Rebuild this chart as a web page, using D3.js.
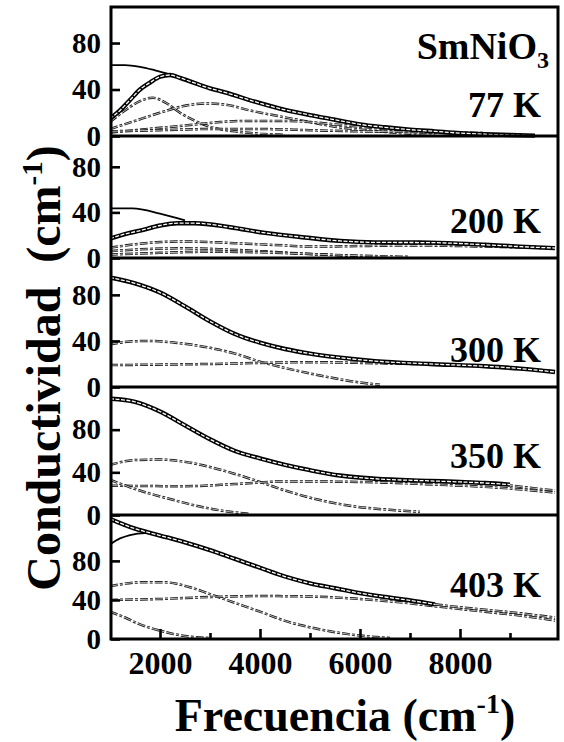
<!DOCTYPE html>
<html>
<head>
<meta charset="UTF-8">
<style>
  body { margin: 0; background: #fff; }
  svg { display: block; }
  text { font-family: "Liberation Serif", "Times New Roman", serif; font-weight: bold; fill: #000; }
  .frame { fill: none; stroke: #000; stroke-width: 3; }
  .sep { stroke: #000; stroke-width: 3; }
  .fit-outer { fill: none; stroke: #000; stroke-width: 4.4; }
  .fit-inner { fill: none; stroke: #fff; stroke-width: 1.3; stroke-dasharray: 4,1.5; }
  .drude { fill: none; stroke: #000; stroke-width: 1.8; }
  .comp-outer { fill: none; stroke: #111; stroke-width: 2.5; stroke-dasharray: 8,2,3,2; }
  .comp-inner { fill: none; stroke: #fff; stroke-width: 0.7; }
  .axis path { display: none; }
  .axis line { stroke: #000; stroke-width: 2.6; }
</style>
</head>
<body>
<svg width="564" height="742"></svg>
<script src="https://d3js.org/d3.v7.min.js"></script>
<script>
// temperaturas de cada panel
const temps = ['77 K', '200 K', '300 K', '350 K', '403 K'];
const yMax = [111, 107, 112, 120, 127];
const yTicks = [0, 40, 80];
const xTicks = [2000, 3000, 4000, 5000, 6000, 7000, 8000, 9000];
const xLabels = [2000, 4000, 6000, 8000];

// 77 K  [frecuencia, conductividad]
const fit77 = [[1000,15],[1200,22],[1400,31],[1600,40],[1800,46],[2000,51],[2200,52.5],[2400,50],[2600,47],[3000,41],[3300,37.5],[3900,29.5],[4500,22.5],[5000,18],[5500,14],[6000,10],[6500,7.5],[7000,5.5],[7500,4],[8000,2.5],[8500,1.5],[9000,0.8],[9500,0.3]];
const drude77 = [[1000,61],[1300,61],[1600,59.5],[1900,56.5],[2200,53],[2400,50.5]];
const compA77 = [[1000,12],[1300,22],[1600,30],[1850,33],[2100,29],[2400,20],[2700,13],[3000,8],[3500,4],[4000,2],[4500,1]];
const compB77 = [[1000,6],[1500,13],[2000,20],[2500,26],[2900,28],[3300,27],[3800,22],[4500,16],[5000,12],[5500,8],[6000,5.5],[6500,3.5],[7000,2],[7500,1]];
const compC77 = [[1000,3],[1500,5],[2000,7],[2600,9.5],[3200,12],[3800,13],[4500,13],[5000,12],[5500,10],[6000,8],[6500,6],[7000,4.5],[7500,3],[8000,2],[8500,1]];
const compD77 = [[1000,4],[2000,5],[3000,6],[4000,6],[5000,5],[6000,4],[7000,3.5],[8000,3],[8500,2.5]];

// 200 K
const fit200 = [[1000,17],[1300,21],[1600,24],[2000,28.5],[2350,30.5],[2700,30.5],[3400,27],[4100,22],[4900,18],[5600,15],[6300,13.7],[7400,13.5],[8500,11.6],[9200,10],[9900,8.7]];
const drude200 = [[1000,43.5],[1450,43.5],[2000,39],[2500,33]];
const compA200 = [[1000,9],[1500,12],[2000,14],[2500,14.5],[3000,14],[3500,13],[4000,12],[4500,11],[5000,10],[6000,10.5],[7000,11],[8000,10.5],[9000,9.5],[9900,8.5]];
const compB200 = [[1000,6],[1800,8],[2500,8.5],[3300,7.5],[4200,5.5],[5000,3.5],[5800,2],[6500,1]];
const compC200 = [[1000,3],[2000,4.5],[3000,5.5],[4000,5],[5000,3.5],[6000,2],[7000,1]];

// 300 K
const fit300 = [[1000,95],[1500,90],[2000,82],[2500,70],[3000,57],[3500,46],[4000,38.5],[4500,33],[5000,29],[5600,25.5],[6300,22.5],[7400,20],[8500,18],[9200,16],[9900,13]];
const compA300 = [[1000,37],[1400,39.5],[1800,40],[2300,38.5],[3000,34],[3500,29],[4000,22],[4500,16.5],[5200,10],[5900,4.5],[6400,2]];
const compB300 = [[1000,19],[3000,20],[5000,21.5],[6500,20.5],[8000,19],[9000,17],[9900,13.5]];

// 350 K
const fit350 = [[1000,109],[1500,106],[2000,97],[2500,84],[3000,71],[3500,60],[4000,53],[4500,47],[5000,42],[5600,37],[6300,34],[7400,32],[8000,31],[8500,30],[9000,28.5]];
const compA350 = [[1000,47],[1500,51.5],[2000,52],[2400,50.5],[3000,45],[3500,38.5],[4000,31],[4500,23],[5200,14],[5900,8],[6700,4.5],[7200,3]];
const compB350 = [[1000,27.5],[2500,27],[3500,29],[4500,31.5],[6000,31],[7500,28.5],[8800,25.5],[9900,21]];
const compC350 = [[1000,33],[1400,26],[1800,20],[2200,15],[2600,10],[3000,6],[3400,3],[3800,1]];
const compD350 = [[8800,29],[9300,26],[9900,23]];

// 403 K
const fit403 = [[1000,123],[1500,113],[2000,106],[2500,99],[3000,91],[3500,82],[4000,73],[4500,64],[5000,57],[5500,52],[6000,47],[6500,43],[7000,39.5],[7500,35.5]];
const drude403 = [[1000,97],[1200,103],[1400,106.5],[1700,108.5],[1900,107.5]];
const compA403 = [[1000,54],[1600,58],[2100,58],[2600,53],[3000,46],[3500,37],[4000,28],[4600,17],[5000,12],[5500,7],[6000,3.5],[6600,1]];
const compB403 = [[1000,40],[2000,41],[3000,43],[4000,44],[5000,43.5],[6000,41],[7000,36.5],[7600,33],[8500,28],[9200,24],[9900,19]];
const compC403 = [[1000,28],[1300,22],[1600,15],[2000,8.5],[2500,3],[3000,1]];
const compD403 = [[7500,35.5],[8000,32.5],[8500,30],[9000,27.5],[9500,24.5],[9900,22]];

const panels = [
  { fit: fit77, drude: drude77, comps: [compA77, compB77, compC77, compD77] },
  { fit: fit200, drude: drude200, comps: [compA200, compB200, compC200] },
  { fit: fit300, drude: null, comps: [compA300, compB300] },
  { fit: fit350, drude: null, comps: [compA350, compB350, compC350, compD350] },
  { fit: fit403, drude: drude403, comps: [compA403, compB403, compC403, compD403] }
];

const svg = d3.select('svg');
const left = 111, right = 558;
const bounds = [7, 136, 258, 387, 515, 639];
const labelY = [117, 233, 362, 468, 597];

const x = d3.scaleLinear().domain([1000, 9960]).range([left - 1, right]);

svg.append('clipPath').attr('id', 'clip')
  .append('rect').attr('x', left).attr('y', bounds[0])
  .attr('width', right - left).attr('height', bounds[5] - bounds[0]);

panels.forEach((p, i) => {
  const y = d3.scaleLinear().domain([0, yMax[i]]).range([bounds[i + 1], bounds[i]]);
  const line = d3.line().x(d => x(d[0])).y(d => y(d[1])).curve(d3.curveMonotoneX);
  const g = svg.append('g').attr('clip-path', 'url(#clip)');

  p.comps.forEach(c => {
    g.append('path').attr('class', 'comp-outer').attr('d', line(c));
    g.append('path').attr('class', 'comp-inner').attr('d', line(c));
  });
  if (p.drude) g.append('path').attr('class', 'drude').attr('d', line(p.drude));
  g.append('path').attr('class', 'fit-outer').attr('d', line(p.fit));
  g.append('path').attr('class', 'fit-inner').attr('d', line(p.fit));

  // eje y
  svg.append('g').attr('class', 'axis')
    .attr('transform', `translate(${left},0)`)
    .call(d3.axisLeft(y).tickValues(yTicks).tickSize(-9).tickPadding(10))
    .selectAll('text').style('font-size', '29px');

  // etiqueta de temperatura
  svg.append('text')
    .attr('x', 541).attr('y', labelY[i])
    .attr('text-anchor', 'end')
    .style('font-size', '36px')
    .text(temps[i]);
});

// separadores y marco
bounds.slice(1, 5).forEach(b => {
  svg.append('line').attr('class', 'sep')
    .attr('x1', left).attr('x2', right).attr('y1', b).attr('y2', b);
});
svg.append('rect').attr('class', 'frame')
  .attr('x', left).attr('y', bounds[0])
  .attr('width', right - left).attr('height', bounds[5] - bounds[0]);

// eje x
const xAxis = svg.append('g').attr('class', 'axis')
  .attr('transform', `translate(0,${bounds[5]})`)
  .call(d3.axisBottom(x).tickValues(xTicks).tickSize(-10).tickPadding(12)
    .tickFormat(d => xLabels.includes(d) ? d : ''));
xAxis.selectAll('.tick').filter(d => !xLabels.includes(d)).select('line').attr('y2', -6);
xAxis.selectAll('text').style('font-size', '32px');

// formula
const f = svg.append('text').attr('x', 549).attr('y', 59).attr('text-anchor', 'end').style('font-size', '38px');
f.append('tspan').text('SmNiO');
f.append('tspan').attr('dy', 9).style('font-size', '24px').text('3');

// titulo eje x
const tx = svg.append('text').attr('x', 345).attr('y', 731).attr('text-anchor', 'middle').style('font-size', '46px');
tx.append('tspan').text('Frecuencia (cm');
tx.append('tspan').attr('dy', -18).style('font-size', '28px').text('-1');
tx.append('tspan').attr('dy', 18).text(')');

// titulo eje y
const ty = svg.append('text').attr('transform', 'translate(60,368) rotate(-90)')
  .attr('text-anchor', 'middle').style('font-size', '48px');
ty.append('tspan').text('Conductividad\u00A0\u00A0(cm');
ty.append('tspan').attr('dy', -18).style('font-size', '29px').text('-1');
ty.append('tspan').attr('dy', 18).text(')');
</script>
</body>
</html>
